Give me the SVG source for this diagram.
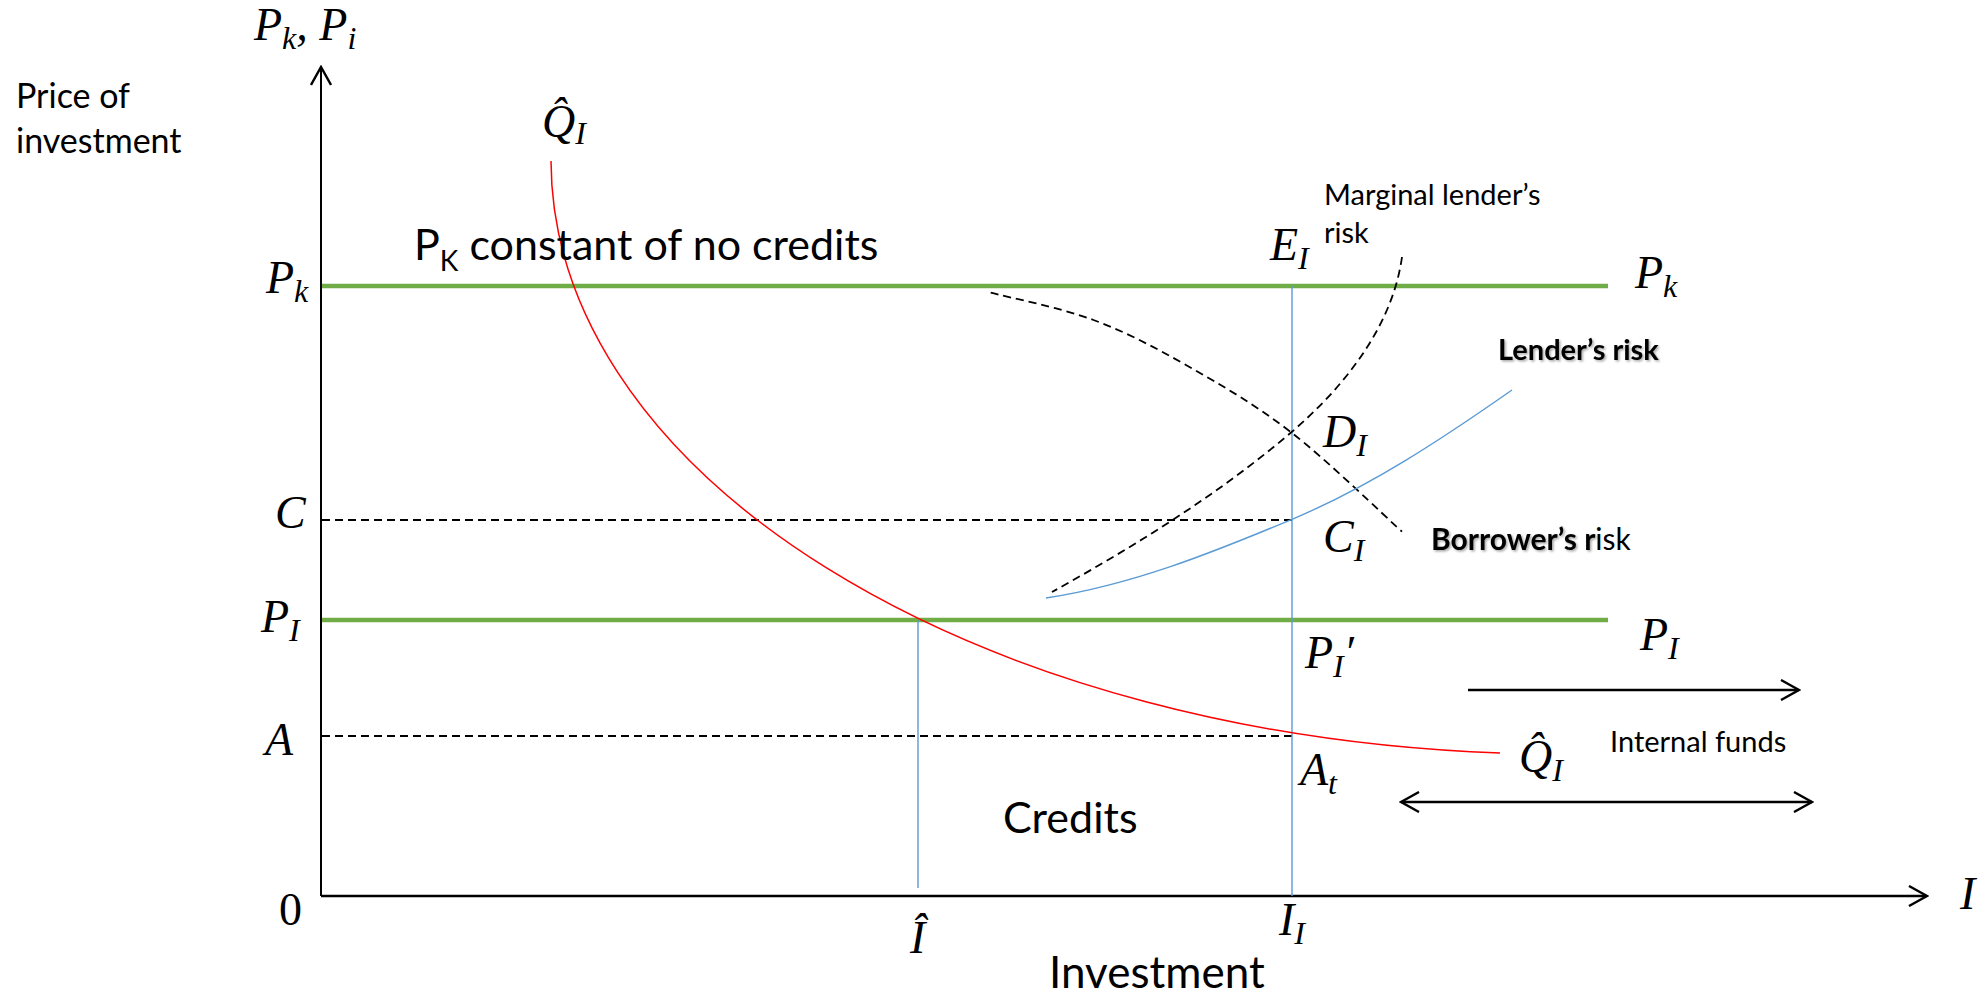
<svg xmlns="http://www.w3.org/2000/svg" width="1985" height="999" viewBox="0 0 1985 999">
<style>
.ax{stroke:#000;fill:none}
.grn{stroke:#70AD47;stroke-width:4.5;fill:none}
.blu{stroke:#5B9BD5;stroke-width:1.4;fill:none}
.red{stroke:#FF0000;stroke-width:1.5;fill:none}
.dsh{stroke:#000;stroke-width:1.8;stroke-dasharray:8 5;fill:none}
.arr{stroke:#000;stroke-width:2.6;fill:none}
.m{font-family:"Liberation Serif",serif;font-style:italic;font-size:46px;fill:#000}
.up{font-style:normal}
.s{font-size:32px}
.t{font-family:Lato,"Liberation Sans",sans-serif;fill:#000}
.b{font-weight:bold}
</style>
<defs>
<marker id="chev" viewBox="0 0 22 22" refX="20" refY="11" markerWidth="22" markerHeight="22" markerUnits="userSpaceOnUse" orient="auto-start-reverse">
<path d="M2,1 L20,11 L2,21" fill="none" stroke="#000" stroke-width="2.4"/>
</marker>
<filter id="sh" x="-10%" y="-30%" width="130%" height="170%">
<feDropShadow dx="1.5" dy="1.5" stdDeviation="1" flood-color="#000" flood-opacity="0.35"/>
</filter>
</defs>

<g id="connectors">
<line class="ax" x1="321" y1="896" x2="321" y2="67" stroke-width="2" marker-end="url(#chev)"/>
<line class="ax" x1="321" y1="896" x2="1927" y2="896" stroke-width="2.6" marker-end="url(#chev)"/>
<line class="grn" x1="322" y1="286" x2="1608" y2="286"/>
<line class="grn" x1="322" y1="620" x2="1608" y2="620"/>
<line class="dsh" x1="322" y1="520" x2="1292" y2="520"/>
<line class="dsh" x1="322" y1="736" x2="1292" y2="736"/>
<line class="blu" x1="918" y1="620" x2="918" y2="888"/>
<line class="blu" x1="1292" y1="286" x2="1292" y2="896"/>
<path class="red" d="M551,161 A1009,594 0 0 0 1500,753"/>
<path class="dsh" d="M990.7,292.7 C1007.8,297.2 1060.5,307.7 1093.5,320 C1126.6,332.3 1155.9,347.9 1189,366.7 C1222.1,385.5 1256.5,405.5 1292,433 C1327.5,460.5 1383.7,515.2 1402,531.7"/>
<path class="dsh" d="M1402,257 C1392.4,326 1345,386 1292,431.7 C1219,494 1136,545.3 1052,592"/>
<path class="blu" d="M1046,598 C1131,585.3 1212.7,552.6 1292,519.3 C1370.4,486.4 1442.4,438.7 1512,390"/>
<line class="arr" x1="1468" y1="690" x2="1799" y2="690" marker-end="url(#chev)"/>
<line class="arr" x1="1401" y1="802" x2="1812" y2="802" marker-start="url(#chev)" marker-end="url(#chev)"/>
</g>

<g id="axis-labels">
<text class="m" x="254" y="40">P<tspan class="s" dy="9">k</tspan><tspan dy="-9">, P</tspan><tspan class="s" dy="9">i</tspan></text>
<text class="t" x="16" y="108" font-size="34">Price of</text>
<text class="t" x="16" y="153" font-size="34">investment</text>
<text class="m" x="266" y="293">P<tspan class="s" dy="9">k</tspan></text>
<text class="m" x="275" y="528">C</text>
<text class="m" x="261" y="632">P<tspan class="s" dy="9">I</tspan></text>
<text class="m" x="265" y="755">A</text>
<text class="m up" x="279" y="925">0</text>
<text class="m" x="910" y="953">Î</text>
<text class="m" x="1279" y="935">I<tspan class="s" dy="9">I</tspan></text>
<text class="m" x="1960" y="909">I</text>
<text class="t" x="1049" y="988" font-size="44">Investment</text>
</g>

<g id="curve-labels">
<text class="m" x="542" y="137">Q̂<tspan class="s" dy="7">I</tspan></text>
<text class="m" x="1519" y="772">Q̂<tspan class="s" dy="9">I</tspan></text>
<text class="t" x="414" y="260" font-size="43">P<tspan font-size="28" dy="11">K</tspan><tspan dy="-11"> constant of no credits</tspan></text>
<text class="m" x="1270" y="260">E<tspan class="s" dy="9">I</tspan></text>
<text class="m" x="1635" y="288">P<tspan class="s" dy="9">k</tspan></text>
<text class="m" x="1323" y="447">D<tspan class="s" dy="9">I</tspan></text>
<text class="m" x="1323" y="552">C<tspan class="s" dy="9">I</tspan></text>
<text class="m" x="1305" y="668">P<tspan class="s" dy="9">I</tspan><tspan dy="-9">′</tspan></text>
<text class="m" x="1640" y="650">P<tspan class="s" dy="9">I</tspan></text>
<text class="m" x="1300" y="785">A<tspan class="s" dy="9">t</tspan></text>
<text class="t" x="1324" y="205" font-size="29">Marginal lender’s</text>
<text class="t" x="1324" y="243" font-size="29">risk</text>
<text class="t b" x="1498" y="360" font-size="29" filter="url(#sh)">Lender’s risk</text>
<text class="t" x="1431" y="550" font-size="30"><tspan class="b" filter="url(#sh)">Borrower’s r</tspan>isk</text>
<text class="t" x="1610" y="752" font-size="29">Internal funds</text>
<text class="t" x="1003" y="833" font-size="43">Credits</text>
</g>
</svg>
